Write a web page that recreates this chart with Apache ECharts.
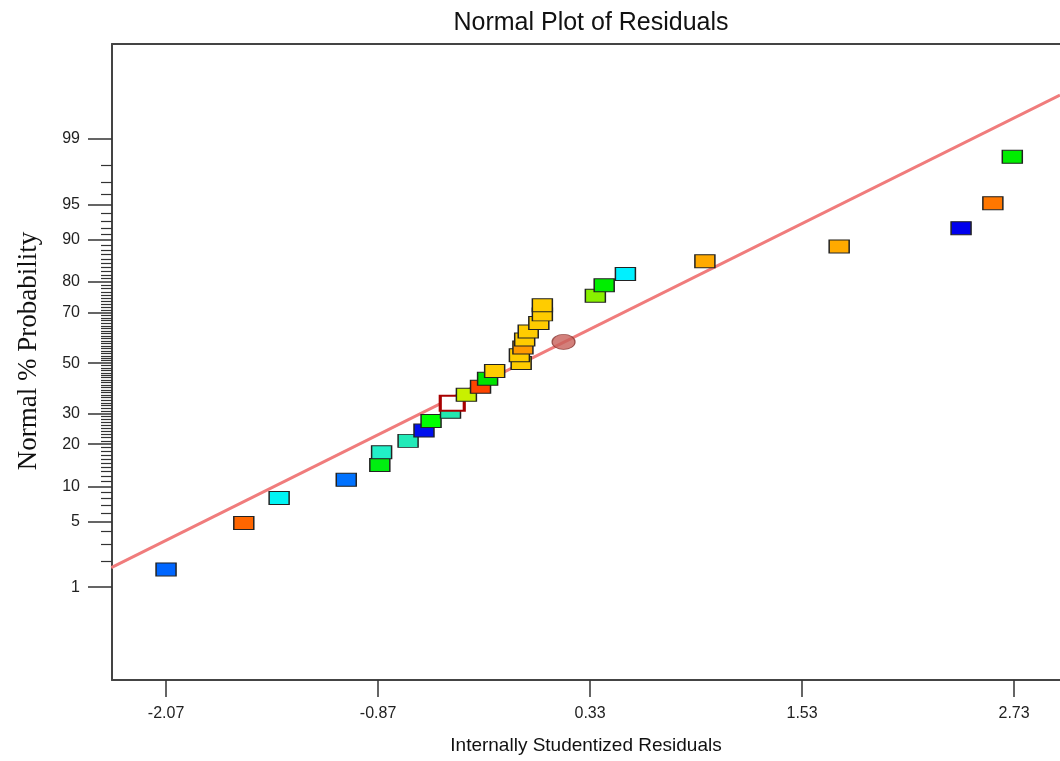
<!DOCTYPE html>
<html>
<head>
<meta charset="utf-8">
<title>Normal Plot of Residuals</title>
<script src="https://cdn.jsdelivr.net/npm/echarts@6/dist/echarts.min.js"></script>
<style>
  html, body { margin: 0; padding: 0; background: #fff; }
  #chart { width: 1060px; height: 761px; }
</style>
</head>
<body>
<div id="chart"></div>
<script>
// internally studentized residuals (x) and normal % probability (y), in run order of rank
var residuals = [-2.07, -1.63, -1.43, -1.05, -0.86, -0.85, -0.70, -0.61, -0.57, -0.46,
                 -0.45, -0.37, -0.29, -0.25, -0.21, -0.06, -0.07, -0.05, -0.04, -0.02,
                 0.04, 0.06, 0.06, 0.36, 0.41, 0.53, 0.98, 1.74, 2.43, 2.61, 2.72];
var probabilities = [1.61, 4.84, 8.06, 11.29, 14.52, 17.74, 20.97, 24.19, 27.42, 30.65,
                     33.87, 37.10, 40.32, 43.55, 46.77, 50.00, 53.23, 56.45, 59.68, 62.90,
                     66.13, 69.35, 72.58, 75.81, 79.03, 82.26, 85.48, 88.71, 91.94, 95.16, 98.39];
// point colours (response colouring from the software)
var pointColors = ['#0066ff', '#ff6600', '#00f4f4', '#0072ff', '#00ee10', '#22f0c8', '#22eab8', '#0010ee', '#00ff00', '#22e8b0',
                   '#ffffff', '#c8f000', '#ff4400', '#00e400', '#ffcc00', '#ffcc00', '#ffcc00', '#ff9900', '#ffcc00', '#ffcc00',
                   '#ffcc00', '#ffcc00', '#ffcc00', '#88f000', '#00ee00', '#00f0ff', '#ffaa00', '#ffaa00', '#0000ee', '#ff7700', '#00ee00'];
var highlightIndex = 10;

// the fitted normal line, end points
var fitLineX = [-2.38, 2.99];
var fitLineProb = [1.69, 99.73];

// the cursor ellipse
var cursorPoint = [0.18, 58.7];

// tick labels
var xTicks = [-2.07, -0.87, 0.33, 1.53, 2.73];
var yMajorTicks = [1, 5, 10, 20, 30, 50, 70, 80, 90, 95, 99];

// inverse of the standard normal cdf (Acklam), for the probability axis
function probit(p) {
    var a = [-3.969683028665376e+01, 2.209460984245205e+02, -2.759285104469687e+02, 1.383577518672690e+02, -3.066479806614716e+01, 2.506628277459239e+00];
    var b = [-5.447609879822406e+01, 1.615858368580409e+02, -1.556989798598866e+02, 6.680131188771972e+01, -1.328068155288572e+01];
    var c = [-7.784894002430293e-03, -3.223964580411365e-01, -2.400758277161838e+00, -2.549732539343734e+00, 4.374664141464968e+00, 2.938163982698783e+00];
    var d = [7.784695709041462e-03, 3.224671290700398e-01, 2.445134137142996e+00, 3.754408661907416e+00];
    var pl = 0.02425, q, r;
    if (p < pl) {
        q = Math.sqrt(-2 * Math.log(p));
        return (((((c[0]*q+c[1])*q+c[2])*q+c[3])*q+c[4])*q+c[5]) / ((((d[0]*q+d[1])*q+d[2])*q+d[3])*q+1);
    }
    if (p > 1 - pl) {
        q = Math.sqrt(-2 * Math.log(1 - p));
        return -(((((c[0]*q+c[1])*q+c[2])*q+c[3])*q+c[4])*q+c[5]) / ((((d[0]*q+d[1])*q+d[2])*q+d[3])*q+1);
    }
    q = p - 0.5;
    r = q * q;
    return (((((a[0]*r+a[1])*r+a[2])*r+a[3])*r+a[4])*r+a[5])*q / (((((b[0]*r+b[1])*r+b[2])*r+b[3])*r+b[4])*r+1);
}
function z(pct) { return probit(pct / 100); }

var yMajorZ = yMajorTicks.map(z);
var yMinorZ = [];
for (var k = 2; k <= 98; k++) {
    if (yMajorTicks.indexOf(k) < 0) yMinorZ.push(z(k));
}

var pointData = residuals.map(function (x, i) {
    var item = { value: [x, z(probabilities[i])], itemStyle: { color: pointColors[i] } };
    if (i === highlightIndex) {
        item.symbolSize = [24, 15];
        item.itemStyle = { color: '#ffffff', borderColor: '#a80000', borderWidth: 2.5 };
    }
    return item;
});

var X_MIN = -2.376, X_MAX = 2.99;
var Y_MIN = -3.29, Y_MAX = 3.313;

var chart = echarts.init(document.getElementById('chart'));
var font = '"Liberation Sans", Arial, sans-serif';
var frameLine = { show: true, onZero: false, lineStyle: { color: '#444', width: 2 } };
var option = {
    animation: false,
    backgroundColor: '#ffffff',
    title: {
        text: 'Normal Plot of Residuals',
        left: 586, top: 6, textAlign: 'center',
        textStyle: { fontFamily: font, fontSize: 25, fontWeight: 'normal', color: '#111' }
    },
    grid: { left: 112, top: 44, right: 0, bottom: 81 },
    xAxis: [{
        type: 'value',
        min: X_MIN, max: X_MAX,
        position: 'bottom',
        name: 'Internally Studentized Residuals',
        nameLocation: 'middle', nameGap: 56,
        nameTextStyle: { fontFamily: font, fontSize: 19, color: '#111', verticalAlign: 'top' },
        axisLine: frameLine,
        splitLine: { show: false },
        axisTick: { show: true, length: 17, lineStyle: { color: '#333', width: 1.5 }, customValues: xTicks },
        axisLabel: {
            customValues: xTicks, margin: 26, fontFamily: font, fontSize: 16, color: '#222',
            formatter: function (v) { return v.toFixed(2); }
        }
    }, {
        // top frame line only
        type: 'value',
        min: X_MIN, max: X_MAX,
        position: 'top',
        axisLine: frameLine,
        splitLine: { show: false },
        axisTick: { show: false },
        axisLabel: { show: false }
    }],
    yAxis: [{
        type: 'value',
        min: Y_MIN, max: Y_MAX,
        position: 'left',
        name: 'Normal % Probability',
        nameLocation: 'middle', nameGap: 70, nameRotate: 90,
        nameTextStyle: {
            fontFamily: '"Liberation Serif", "Times New Roman", serif', fontSize: 27, color: '#111',
            padding: [0, 0, 0, 22]
        },
        axisLine: frameLine,
        splitLine: { show: false },
        axisTick: { show: true, length: 24, lineStyle: { color: '#333', width: 1.5 }, customValues: yMajorZ },
        axisLabel: {
            customValues: yMajorZ, margin: 32, fontFamily: font, fontSize: 16, color: '#222',
            formatter: function (v) {
                var best = 0;
                for (var i = 1; i < yMajorZ.length; i++) {
                    if (Math.abs(yMajorZ[i] - v) < Math.abs(yMajorZ[best] - v)) best = i;
                }
                return String(yMajorTicks[best]);
            }
        }
    }, {
        type: 'value',
        min: Y_MIN, max: Y_MAX,
        position: 'left', offset: 0,
        axisLine: { show: false, onZero: false },
        splitLine: { show: false },
        axisLabel: { show: false },
        axisTick: { show: true, length: 11, lineStyle: { color: '#333', width: 1.2 }, customValues: yMinorZ }
    }],
    series: [{
        type: 'line',
        data: fitLineX.map(function (x, i) { return [x, z(fitLineProb[i])]; }),
        symbol: 'none',
        lineStyle: { color: '#f07c7c', width: 3 },
        z: 2
    }, {
        type: 'scatter',
        symbol: 'rect',
        symbolSize: [20, 13],
        itemStyle: { borderColor: '#222', borderWidth: 1.2, opacity: 1 },
        data: pointData,
        z: 3
    }, {
        type: 'scatter',
        symbol: 'circle',
        symbolSize: [23, 15],
        itemStyle: { color: '#c8605a', borderColor: '#8a3a35', borderWidth: 1 },
        data: [[cursorPoint[0], z(cursorPoint[1])]],
        z: 4
    }]
};
chart.setOption(option);
</script>
</body>
</html>
